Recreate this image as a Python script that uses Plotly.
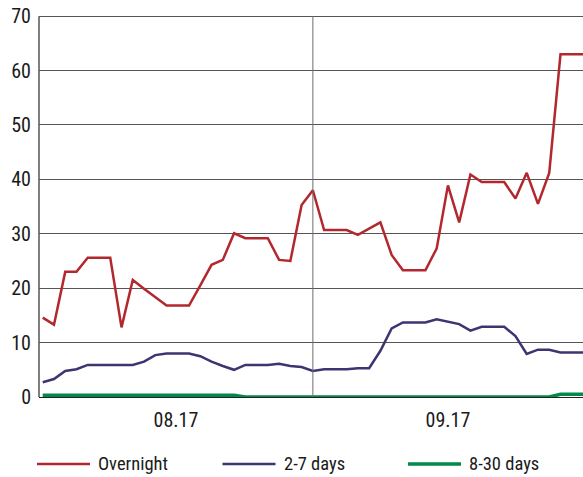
import plotly.graph_objects as go

# business days, Aug-Sep 2017 (index positions), month break at index 24
days = list(range(49))
month_labels = ["08.17", "09.17"]
month_break = 24

overnight = [14.6, 13.3, 23.0, 23.0, 25.6, 25.6, 25.6, 12.8, 21.5, 19.9,
             18.3, 16.8, 16.8, 16.8, 20.5, 24.3, 25.2, 30.1, 29.2, 29.2,
             29.2, 25.2, 25.0, 35.3, 38.0, 30.7, 30.7, 30.7, 29.8, 31.0,
             32.1, 26.1, 23.3, 23.3, 23.3, 27.3, 38.9, 32.1, 40.9, 39.5,
             39.5, 39.5, 36.5, 41.2, 35.5, 41.2, 63.0, 63.0, 63.0]
days_2_7 = [2.7, 3.3, 4.8, 5.1, 5.9, 5.9, 5.9, 5.8, 5.9, 6.5,
            7.7, 8.0, 8.0, 8.0, 7.5, 6.5, 5.7, 5.0, 5.9, 5.9,
            5.9, 6.1, 5.7, 5.5, 4.8, 5.1, 5.1, 5.1, 5.3, 5.3,
            8.5, 12.6, 13.7, 13.7, 13.7, 14.3, 13.9, 13.4, 12.2, 12.9,
            12.9, 12.9, 11.2, 7.9, 8.7, 8.7, 8.2, 8.2, 8.2]
days_8_30 = [0.3] * 18 + [0.0] * 28 + [0.5] * 3

series = [
    ("Overnight", overnight, "#b2282e", 2.5),
    ("2-7 days", days_2_7, "#3d3472", 2.5),
    ("8-30 days", days_8_30, "#00894a", 3.5),
]

FONT = "Roboto Condensed, DejaVu Sans Condensed, sans-serif"
W, H = 583, 477
ML, MR, MT, MB = 39, 0, 14, 80
x_lo, x_hi = -0.33, 48
y_hi = 70.4  # a little headroom so the 70 gridline and label are kept

fig = go.Figure()
for name, vals, color, width in series:
    fig.add_trace(go.Scatter(x=days, y=vals, mode="lines", name=name,
                             line=dict(color=color, width=width),
                             showlegend=False))

# month separator
fig.add_shape(type="line", xref="x", yref="y", x0=month_break, x1=month_break,
              y0=0, y1=70, line=dict(color="#6e6e6e", width=1))

# hand-made legend so the line samples are as long as in the original
pw = W - ML - MR
ph = H - MT - MB
plot_bottom = MT + ph
leg_y = (plot_bottom - 464) / ph
for i, (name, vals, color, width) in enumerate(series):
    x0 = 37 + i * 185.5
    fig.add_shape(type="line", xref="paper", yref="paper",
                  x0=(x0 - ML) / pw, x1=(x0 + 53 - ML) / pw,
                  y0=leg_y, y1=leg_y, line=dict(color=color, width=width))
    fig.add_annotation(xref="paper", yref="paper", x=(x0 + 61 - ML) / pw,
                       y=leg_y, text=name, showarrow=False, xanchor="left",
                       yanchor="middle", xshift=-2,
                       font=dict(family=FONT, size=18.5, color="#1a1a1a"))

fig.update_layout(
    width=W, height=H,
    margin=dict(l=ML, r=MR, t=MT, b=MB),
    paper_bgcolor="white", plot_bgcolor="white",
    font=dict(family=FONT, size=20, color="#1a1a1a"),
    xaxis=dict(range=[x_lo, x_hi], showgrid=False, zeroline=False,
               showline=True, linecolor="#222", linewidth=1,
               tickvals=[(x_lo + month_break) / 2, (month_break + x_hi) / 2],
               ticktext=month_labels, ticks="", ticklabelstandoff=5),
    yaxis=dict(range=[0, y_hi], tickvals=list(range(0, 71, 10)), showgrid=True,
               gridcolor="#555", gridwidth=1, zeroline=False, showline=False,
               ticks="", ticklabelstandoff=7),
)

# left axis line stops at 70 like the original
fig.add_shape(type="line", xref="paper", yref="y", x0=0, x1=0, y0=0, y1=70,
              line=dict(color="#555", width=1.5))

fig.write_html("out.html", config={"displayModeBar": False},
               post_script="document.body.style.margin='0';")
